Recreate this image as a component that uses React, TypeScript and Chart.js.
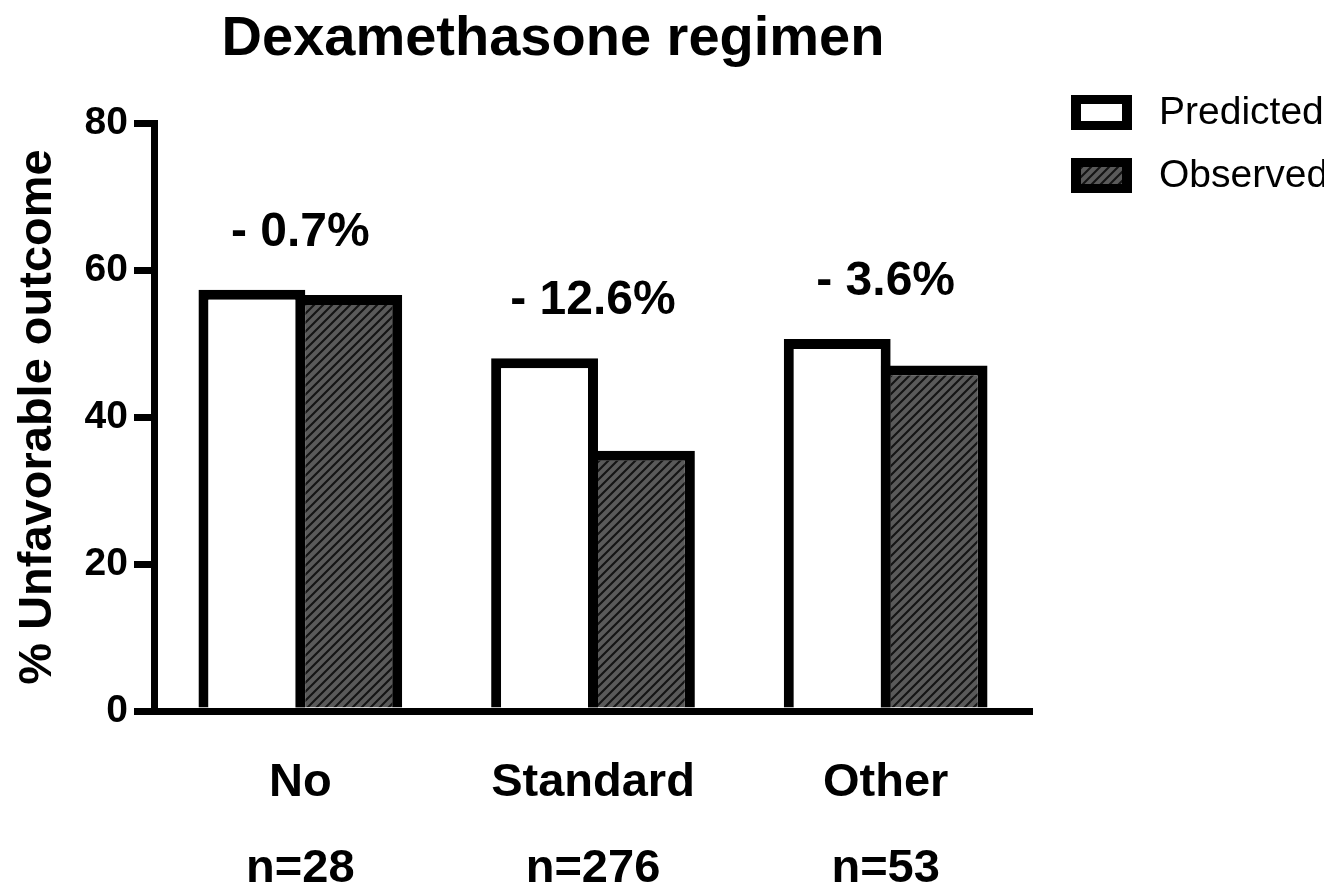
import React, { useEffect, useRef } from 'react';
import { Chart, registerables } from 'chart.js';

Chart.register(...registerables);

const chartTitle = 'Dexamethasone regimen';
const yAxisTitle = '% Unfavorable outcome';
const categories = ['No', 'Standard', 'Other'];
const sampleSizes = ['n=28', 'n=276', 'n=53'];
const seriesNames = ['Predicted', 'Observed'];
const predicted = [57.3, 48.0, 50.6];
const observed = [56.6, 35.4, 47.0];
const differences = ['- 0.7%', '- 12.6%', '- 3.6%'];
const yTicks = [0, 20, 40, 60, 80];

const FONT = '"Liberation Sans", Arial, sans-serif';
const W = 1316;
const H = 880;

function makeHatch(ctx: CanvasRenderingContext2D) {
  const s = 9;
  const c = document.createElement('canvas');
  c.width = s;
  c.height = s;
  const g = c.getContext('2d')!;
  g.fillStyle = '#5a5a5a';
  g.fillRect(0, 0, s, s);
  g.strokeStyle = '#141414';
  g.lineWidth = 2.1;
  g.beginPath();
  g.moveTo(-2, s + 2);
  g.lineTo(s + 2, -2);
  g.moveTo(-2, 2);
  g.lineTo(2, -2);
  g.moveTo(s - 2, s + 2);
  g.lineTo(s + 2, s - 2);
  g.stroke();
  return ctx.createPattern(c, 'repeat')!;
}

export default function App() {
  const ref = useRef<HTMLCanvasElement | null>(null);

  useEffect(() => {
    const canvas = ref.current!;
    const ctx = canvas.getContext('2d')!;
    const hatch = makeHatch(ctx);

    const overlay = {
      id: 'overlay',
      afterDatasetsDraw(chart: any) {
        const c = chart.ctx as CanvasRenderingContext2D;
        const xs = chart.scales.x;
        const ys = chart.scales.y;
        c.save();
        c.fillStyle = '#000';
        c.font = `bold 48px ${FONT}`;
        c.textAlign = 'center';
        c.textBaseline = 'alphabetic';
        differences.forEach((d, i) => {
          const top = Math.max(predicted[i], observed[i]);
          c.fillText(d, xs.getPixelForValue(i), ys.getPixelForValue(top) - 44);
        });
        c.restore();
      },
      afterDraw(chart: any) {
        const c = chart.ctx as CanvasRenderingContext2D;
        c.save();
        c.fillStyle = '#000';
        c.font = `bold 56px ${FONT}`;
        c.textAlign = 'center';
        c.textBaseline = 'alphabetic';
        c.fillText(chartTitle, 545, 47);
        const fills = ['#ffffff', hatch];
        const boxX = 1063;
        const boxW = 61;
        const boxH = 35;
        const rowsY = [87, 150];
        seriesNames.forEach((name, i) => {
          const y = rowsY[i];
          c.fillStyle = '#000';
          c.fillRect(boxX, y, boxW, boxH);
          c.fillStyle = fills[i] as any;
          c.fillRect(boxX + 10, y + 9, boxW - 20, boxH - 18);
          c.fillStyle = '#000';
          c.font = `39px ${FONT}`;
          c.textAlign = 'left';
          c.textBaseline = 'middle';
          c.fillText(name, 1151, y + boxH / 2 + 1);
        });
        c.restore();
      },
    };

    const chart = new Chart(canvas, {
      type: 'bar',
      data: {
        labels: categories.map((c, i) => [c, sampleSizes[i]]),
        datasets: [
          {
            label: seriesNames[0],
            data: predicted,
            backgroundColor: '#ffffff',
            borderColor: '#000000',
            borderWidth: 10,
            borderSkipped: 'bottom',
            categoryPercentage: 0.662,
            barPercentage: 1.103,
          },
          {
            label: seriesNames[1],
            data: observed,
            backgroundColor: hatch as any,
            borderColor: '#000000',
            borderWidth: 10,
            borderSkipped: 'bottom',
            categoryPercentage: 0.662,
            barPercentage: 1.103,
          },
        ],
      },
      options: {
        animation: false,
        responsive: false,
        devicePixelRatio: 1,
        layout: { padding: { left: 0, top: 115, right: 292, bottom: 0 } },
        plugins: {
          legend: { display: false },
          title: { display: false },
          tooltip: { enabled: false },
        },
        scales: {
          x: {
            grid: { display: false, drawTicks: false, drawOnChartArea: false },
            border: { display: true, color: '#000', width: 7 },
            ticks: {
              color: '#000',
              padding: 30,
              font: { family: FONT, size: 47, weight: 'bold', lineHeight: 1.81 },
              maxRotation: 0,
              autoSkip: false,
            },
            afterFit(scale: any) {
              scale.height = 177;
            },
          },
          y: {
            min: 0,
            max: 80,
            afterBuildTicks(scale: any) {
              scale.ticks = yTicks.map((v) => ({ value: v }));
            },
            grid: {
              display: true,
              drawOnChartArea: false,
              drawTicks: true,
              tickLength: 20,
              lineWidth: 7,
              color: '#000',
            },
            border: { display: true, color: '#000', width: 7 },
            ticks: {
              color: '#000',
              padding: 6,
              font: { family: FONT, size: 39, weight: 'bold' },
            },
            title: {
              display: true,
              text: yAxisTitle,
              color: '#000',
              padding: { top: 3, bottom: 0 },
              font: { family: FONT, size: 47, weight: 'bold', lineHeight: 1.15 },
            },
            afterFit(scale: any) {
              scale.width = 146;
            },
          },
        },
      },
      plugins: [overlay],
    });

    return () => chart.destroy();
  }, []);

  return (
    <div style={{ width: W, height: H }}>
      <canvas ref={ref} width={W} height={H} style={{ display: 'block', width: W, height: H }} />
    </div>
  );
}
